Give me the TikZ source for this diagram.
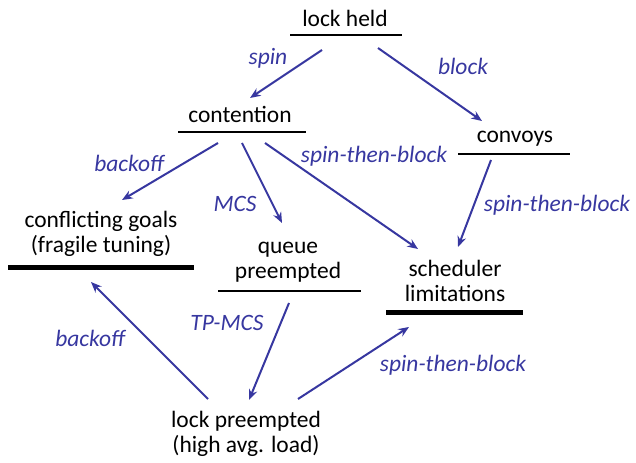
\documentclass[tikz,border=0pt]{standalone}
\usepackage{fontspec}
\setmainfont{Carlito}
\usepackage{xcolor}
\usetikzlibrary{arrows.meta}
\definecolor{linkblue}{RGB}{55,55,160}

\begin{document}
\begin{tikzpicture}[x=0.75pt,y=-0.75pt,>={Stealth[length=8pt,width=6.5pt]}]
	\useasboundingbox (0,0) rectangle (636,463);
	\tikzstyle{every node}+=[inner sep=0pt,align=center,anchor=base,font=\fontsize{17.6}{18.75}\selectfont]
	\tikzstyle{why}=[text=linkblue,font=\fontsize{17.6}{18.75}\selectfont\itshape]
	\tikzstyle{bar}=[line width=1.7pt]
	\tikzstyle{thickbar}=[line width=3.75pt]
	% states (multi-line ones sit on their last baseline)
	\node (held) at (345,27) {lock held};
	\node (cont) at (240,123) {contention};
	\node (conv) at (515,143) {convoys};
	\node (goals) at (101,253) {conflicting goals\\(fragile tuning)};
	\node (queue) at (288,279) {queue\\preempted};
	\node (sched) at (455,302) {scheduler\\limitations};
	\node (lockp) at (246,452) {lock preempted\\(high avg. load)};
	% underlines
	\draw[bar] (290,35) -- (402,35);
	\draw[bar] (178,132) -- (306,132);
	\draw[bar] (458,154) -- (570,154);
	\draw[thickbar] (8,268) -- (194,268);
	\draw[bar] (218,291) -- (361,291);
	\draw[thickbar] (386,313) -- (523,313);
	% arrow ends
	\coordinate (held-l) at (322,50);
	\coordinate (held-r) at (378,48);
	\coordinate (cont-in) at (250,98);
	\coordinate (conv-in) at (482,121);
	\coordinate (cont-l) at (218,143);
	\coordinate (cont-m) at (242,143);
	\coordinate (cont-r) at (265,143);
	\coordinate (conv-out) at (491,160);
	\coordinate (goals-in) at (122,200);
	\coordinate (goals-low) at (91,282);
	\coordinate (queue-in) at (282,223);
	\coordinate (queue-out) at (289,303);
	\coordinate (sched-in) at (418,249);
	\coordinate (sched-r) at (458,247);
	\coordinate (sched-low) at (409,327);
	\coordinate (lockp-l) at (208,399);
	\coordinate (lockp-in) at (249,400);
	\coordinate (lockp-r) at (298,399);
	% labels
	\node[why] (l-spin) at (268,65) {spin};
	\node[why] (l-block) at (463,75) {block};
	\node[why] (l-back) at (129,172) {backoff};
	\node[why] (l-mcs) at (235,212) {MCS};
	\node[why] (l-stb) at (374,163) {spin-then-block};
	\node[why] (l-stb2) at (557,212) {spin-then-block};
	\node[why] (l-back2) at (90,347) {backoff};
	\node[why] (l-tp) at (227,331) {TP-MCS};
	\node[why] (l-stb3) at (453,372) {spin-then-block};
	\tikzstyle{every edge}+=[->,line width=1.5pt,linkblue]
	\draw
	(held-l) edge (cont-in)
	(held-r) edge (conv-in)
	(cont-l) edge (goals-in)
	(cont-m) edge (queue-in)
	(cont-r) edge (sched-in)
	(conv-out) edge (sched-r)
	(lockp-l) edge (goals-low)
	(queue-out) edge (lockp-in)
	(lockp-r) edge (sched-low)
	;
\end{tikzpicture}
\end{document}
